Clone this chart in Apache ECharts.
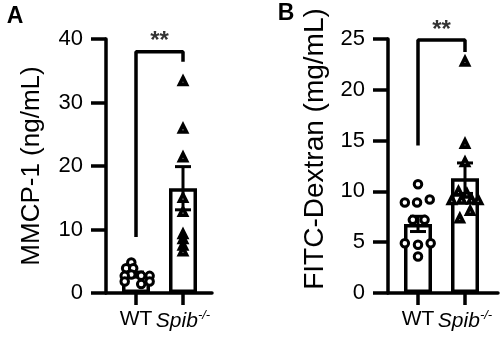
<!DOCTYPE html>
<html>
<head>
<meta charset="utf-8">
<script src="https://cdn.jsdelivr.net/npm/echarts@6/dist/echarts.min.js"></script>
<style>
html, body { margin: 0; padding: 0; background: #fff; }
#main { width: 500px; height: 338px; }
</style>
</head>
<body>
<div id="main"></div>
<script>
// groups on the x axis (1 = WT, 2 = Spib-/-)
var groups = ['WT', 'Spib'];
var groupPos = [1, 2];

// A: MMCP-1 (ng/mL)
var mmcpWT = [4.8, 3.9, 3.9, 2.9, 2.7, 2.7, 2.7, 1.8, 1.4, 1.8];
var mmcpWTJit = [-0.10, -0.21, -0.06, -0.10, 0.11, 0.29, -0.24, -0.24, 0.11, 0.29];
var mmcpKO = [33.4, 25.9, 21.4, 15.0, 12.8, 9.3, 8.5, 7.5, 6.6];
var mmcpKOJit = [0, 0, 0, 0, 0, 0, 0, 0, 0];
var mmcpMean = [2.9, 16.5];
var mmcpSem = [0.4, 3.4];
var mmcpBracket = [[1, 9.1], [1, 38.0], [2, 38.0], [2, 36.7]];
var mmcpStar = [1.5, 39.6];

// B: FITC-Dextran (mg/mL)
var fitcWT = [10.7, 8.9, 8.9, 9.2, 7.2, 7.2, 4.9, 4.75, 4.9, 3.6];
var fitcWTJit = [0, -0.28, -0.02, 0.25, -0.11, 0.14, -0.28, 0, 0.27, 0];
var fitcKO = [22.8, 14.7, 12.9, 10.0, 9.8, 9.15, 9.2, 9.2, 9.15, 8.1, 7.35];
var fitcKOJit = [0, 0, 0, -0.14, 0.04, -0.28, -0.07, 0.14, 0.28, 0.11, -0.11];
var fitcMean = [6.8, 11.3];
var fitcSem = [0.75, 1.5];
var fitcBracket = [[1, 14.7], [1, 24.9], [2, 24.9], [2, 23.9]];
var fitcStar = [1.5, 25.8];

var FONT = '"Liberation Sans", Arial, Helvetica, sans-serif';
var myChart = echarts.init(document.getElementById('main'));

function pts(vals, jit, pos) {
    return vals.map(function (v, i) { return [pos + jit[i], v]; });
}

function errBar(params, api) {
    var x = api.value(0), m = api.value(1), s = api.value(2);
    var top = api.coord([x, m + s]);
    var bot = api.coord([x, m - s]);
    var hw = 8;
    var st = { stroke: '#000', lineWidth: 3 };
    return {
        type: 'group',
        children: [
            { type: 'line', shape: { x1: top[0], y1: top[1], x2: bot[0], y2: bot[1] }, style: st },
            { type: 'line', shape: { x1: top[0] - hw, y1: top[1], x2: top[0] + hw, y2: top[1] }, style: st },
            { type: 'line', shape: { x1: bot[0] - hw, y1: bot[1], x2: bot[0] + hw, y2: bot[1] }, style: st }
        ]
    };
}

function xAxisOf(idx, min, max) {
    return {
        type: 'value', gridIndex: idx, min: min, max: max,
        splitLine: { show: false },
        axisLine: { show: true, onZero: false, lineStyle: { color: '#000', width: 3.5 } },
        axisTick: { show: true, customValues: groupPos, length: 12, lineStyle: { color: '#000', width: 3.5 } },
        axisLabel: {
            show: true, customValues: groupPos, margin: 16, color: '#000',
            fontSize: 21, fontFamily: FONT,
            formatter: function (v) {
                var name = groups[Math.round(v) - 1];
                return name === 'WT' ? name : '{i|' + name + '}{s|-/-}';
            },
            rich: {
                i: { fontStyle: 'italic', fontSize: 21, fontFamily: FONT, color: '#000' },
                s: { fontStyle: 'italic', fontSize: 13, fontFamily: FONT, color: '#000', padding: [0, 0, 12, 0] }
            }
        }
    };
}

function yAxisOf(idx, max, step) {
    return {
        type: 'value', gridIndex: idx, min: 0, max: max, interval: step,
        splitLine: { show: false },
        axisLine: { show: true, lineStyle: { color: '#000', width: 3.5 } },
        axisTick: { show: true, length: 15, lineStyle: { color: '#000', width: 3.5 } },
        axisLabel: { color: '#000', fontSize: 22, fontFamily: FONT, margin: 23 }
    };
}

function panelSeries(idx, wt, wtJit, ko, koJit, mean, sem, bracket, star) {
    return [
        {
            type: 'bar', xAxisIndex: idx, yAxisIndex: idx, barWidth: 28, z: 2,
            itemStyle: { color: '#fff', borderColor: '#000', borderWidth: 3.5 },
            data: groupPos.map(function (p, i) { return [p, mean[i]]; })
        },
        {
            type: 'custom', xAxisIndex: idx, yAxisIndex: idx, z: 3,
            renderItem: errBar, encode: { x: 0, y: 1 },
            data: groupPos.map(function (p, i) { return [p, mean[i], sem[i]]; })
        },
        {
            type: 'scatter', xAxisIndex: idx, yAxisIndex: idx, z: 4,
            symbol: 'circle', symbolSize: 7.5,
            itemStyle: { color: '#fff', borderColor: '#000', borderWidth: 3, opacity: 1 },
            data: pts(wt, wtJit, 1)
        },
        {
            type: 'scatter', xAxisIndex: idx, yAxisIndex: idx, z: 4,
            symbol: 'triangle', symbolSize: 7,
            itemStyle: { color: '#fff', borderColor: '#000', borderWidth: 3.6, opacity: 1 },
            data: pts(ko, koJit, 2)
        },
        {
            type: 'line', xAxisIndex: idx, yAxisIndex: idx, z: 5,
            symbol: 'none', silent: true, clip: false,
            lineStyle: { color: '#000', width: 3.5, cap: 'square' },
            data: bracket
        },
        {
            type: 'scatter', xAxisIndex: idx, yAxisIndex: idx, z: 5,
            symbolSize: 0, silent: true, clip: false,
            label: { show: true, position: 'inside', formatter: '**', color: '#000', fontSize: 24, fontWeight: 'bold', fontFamily: FONT },
            data: [star]
        }
    ];
}

option = {
    backgroundColor: '#fff',
    animation: false,
    grid: [
        { left: 106, top: 39, width: 106, height: 254 },
        { left: 388, top: 39, width: 110, height: 254 }
    ],
    xAxis: [xAxisOf(0, 1 - 30 / 47, 2 + 29 / 47), xAxisOf(1, 1 - 30 / 47, 2 + 33 / 47)],
    yAxis: [yAxisOf(0, 40, 10), yAxisOf(1, 25, 5)],
    graphic: [
        { type: 'text', x: 15, y: 17, style: { text: 'A', font: 'bold 23px ' + FONT, fill: '#000', align: 'center', verticalAlign: 'middle' } },
        { type: 'text', x: 286, y: 14, style: { text: 'B', font: 'bold 23px ' + FONT, fill: '#000', align: 'center', verticalAlign: 'middle' } },
        { type: 'text', x: 32, y: 166, rotation: Math.PI / 2, style: { text: 'MMCP-1 (ng/mL)', font: '26px ' + FONT, fill: '#000', align: 'center', verticalAlign: 'middle' } },
        { type: 'text', x: 315, y: 149, rotation: Math.PI / 2, style: { text: 'FITC-Dextran (mg/mL)', font: '28px ' + FONT, fill: '#000', align: 'center', verticalAlign: 'middle' } }
    ],
    series: panelSeries(0, mmcpWT, mmcpWTJit, mmcpKO, mmcpKOJit, mmcpMean, mmcpSem, mmcpBracket, mmcpStar)
        .concat(panelSeries(1, fitcWT, fitcWTJit, fitcKO, fitcKOJit, fitcMean, fitcSem, fitcBracket, fitcStar))
};

myChart.setOption(option);
window.onresize = myChart.resize;
</script>
</body>
</html>
